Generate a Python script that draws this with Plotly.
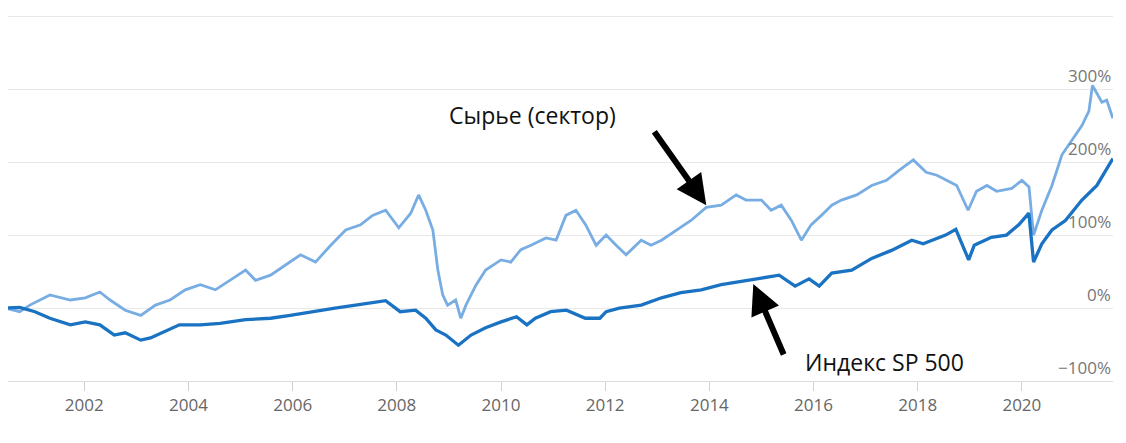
import plotly.graph_objects as go

# ---- data (cumulative return, %) ----
mat_dates = ["2000-06-25","2000-10-05","2000-12-15","2001-05-05","2001-09-25","2002-01-08","2002-04-20",
             "2002-07-01","2002-10-15","2003-02-01","2003-05-15","2003-08-25","2003-12-10","2004-03-25",
             "2004-07-08","2004-10-22","2005-02-05","2005-04-15","2005-07-30","2005-11-12","2006-02-25",
             "2006-06-10","2006-09-25","2007-01-08","2007-04-22","2007-07-15","2007-10-15","2008-01-15",
             "2008-04-08","2008-06-02","2008-07-22","2008-09-10","2008-10-15","2008-11-18","2008-12-22",
             "2009-02-17","2009-03-25","2009-04-30","2009-07-08","2009-09-15","2010-01-01","2010-03-10",
             "2010-05-20","2010-07-30","2010-11-12","2011-01-22","2011-04-01","2011-06-10","2011-08-18",
             "2011-10-30","2012-01-08","2012-03-18","2012-05-27","2012-09-10","2012-11-18","2013-01-30",
             "2013-05-15","2013-08-25","2013-12-10","2014-03-25","2014-07-08","2014-09-15","2015-01-01",
             "2015-03-10","2015-05-20","2015-07-30","2015-10-08","2015-12-15","2016-02-25","2016-05-08",
             "2016-07-15","2016-10-30","2017-02-12","2017-05-27","2017-08-25","2017-12-01","2018-03-01",
             "2018-05-15","2018-07-22","2018-10-01","2018-12-20","2019-02-17","2019-05-01","2019-07-08",
             "2019-10-22","2020-01-01","2020-02-20","2020-03-23","2020-05-20","2020-07-30","2020-10-08",
             "2020-12-15","2021-02-25","2021-04-15","2021-05-10","2021-07-15","2021-08-18","2021-09-30"]
mat_vals = [0, -5, 4, 18, 11, 14, 22,
            11, -3, -10, 4, 11, 25, 32,
            25, 38, 52, 38, 45, 59, 73,
            63, 86, 107, 114, 127, 134, 110,
            130, 155, 134, 107, 52, 18, 4,
            11, -14, 4, 31, 52, 66, 63,
            80, 86, 96, 93, 127, 134, 114,
            86, 100, 86, 73, 93, 86, 93,
            107, 120, 138, 141, 155, 148, 148,
            134, 141, 120, 93, 114, 127, 141,
            148, 155, 168, 175, 189, 203, 186,
            182, 175, 168, 134, 160, 168, 160,
            164, 175, 166, 100, 134, 168, 210,
            230, 250, 270, 305, 282, 285, 260]

sp_dates = ["2000-06-25","2000-10-05","2001-01-20","2001-05-05","2001-09-25","2002-01-08","2002-04-20",
            "2002-07-30","2002-10-15","2003-02-01","2003-04-10","2003-07-15","2003-10-30","2004-03-25",
            "2004-08-10","2005-02-05","2005-07-30","2005-12-15","2006-05-05","2006-10-25","2007-03-18",
            "2007-08-05","2007-10-15","2008-01-25","2008-05-12","2008-07-22","2008-10-01","2008-12-10",
            "2009-03-08","2009-06-05","2009-09-15","2010-01-01","2010-04-20","2010-07-01","2010-08-30",
            "2010-12-15","2011-04-05","2011-08-15","2011-11-25","2012-01-08","2012-04-10","2012-09-10",
            "2013-01-30","2013-06-15","2013-11-05","2014-03-25","2014-08-10","2015-01-01","2015-05-05",
            "2015-08-25","2015-12-01","2016-02-10","2016-05-08","2016-09-25","2017-02-12","2017-07-01",
            "2017-11-20","2018-02-08","2018-07-15","2018-09-25","2018-12-24","2019-02-01","2019-06-01",
            "2019-09-15","2019-12-10","2020-02-19","2020-03-23","2020-05-20","2020-07-30","2020-11-01",
            "2021-02-25","2021-06-10","2021-09-30"]
sp_vals = [0, 1, -5, -14, -23, -19, -23,
           -37, -34, -44, -41, -33, -23, -23,
           -21, -16, -14, -10, -5, 0, 4,
           8, 10, -5, -3, -14, -30, -37,
           -51, -37, -27, -19, -12, -23, -14,
           -5, -3, -14, -14, -5, 0, 4,
           14, 21, 25, 32, 36, 41, 45,
           30, 40, 30, 48, 52, 68, 79,
           93, 88, 100, 108, 66, 86, 97,
           100, 114, 130, 63, 88, 107, 120,
           148, 168, 205]

x_tick_vals = ["2002-01-01","2004-01-01","2006-01-01","2008-01-01","2010-01-01",
               "2012-01-01","2014-01-01","2016-01-01","2018-01-01","2020-01-01"]
x_tick_text = ["2002","2004","2006","2008","2010","2012","2014","2016","2018","2020"]
y_grid_vals = [-100, 0, 100, 200, 300, 400]
y_label_vals = [-100, 0, 100, 200, 300]
y_label_text = ["\u2212100%", "0%", "100%", "200%", "300%"]

mat_name = "Сырье (сектор)"
sp_name = "Индекс SP 500"

fig = go.Figure()
fig.add_trace(go.Scatter(x=mat_dates, y=mat_vals, mode="lines", name=mat_name,
                         line=dict(color="#78ade4", width=2.8)))
fig.add_trace(go.Scatter(x=sp_dates, y=sp_vals, mode="lines", name=sp_name,
                         line=dict(color="#1a73c2", width=3.3)))

annotations = []
for v, t in zip(y_label_vals, y_label_text):
    annotations.append(dict(x=1, xref="paper", y=v, yref="y", text=t, showarrow=False,
                            xanchor="right", yanchor="bottom", yshift=0,
                            font=dict(family="Open Sans", size=17, color="#777")))

annotations.append(dict(x="2010-08-10", y=264, xref="x", yref="y", text=mat_name, showarrow=False,
                        font=dict(family="Open Sans", size=23, color="#111")))
annotations.append(dict(x="2017-05-15", y=-74, xref="x", yref="y", text=sp_name, showarrow=False,
                        font=dict(family="Open Sans", size=23, color="#111")))
annotations.append(dict(x="2013-12-10", y=141, xref="x", yref="y", text="", showarrow=True,
                        ax=-53, ay=-75, arrowhead=2, arrowsize=1, arrowwidth=6, arrowcolor="#000"))
annotations.append(dict(x="2014-11-05", y=33, xref="x", yref="y", text="", showarrow=True,
                        ax=31, ay=72, arrowhead=2, arrowsize=1, arrowwidth=6, arrowcolor="#000"))

fig.update_layout(
    width=1118, height=435,
    margin=dict(l=0, r=13, t=6, b=62),
    plot_bgcolor="white", paper_bgcolor="white",
    showlegend=False,
    annotations=annotations,
    xaxis=dict(type="date", range=["2000-07-15", "2021-10-01"],
               tickvals=x_tick_vals, ticktext=x_tick_text,
               showgrid=False, zeroline=False,
               showline=True, linecolor="#dddddd", linewidth=1,
               ticks="outside", ticklen=9, tickcolor="#d0d0d0",
               tickfont=dict(family="Open Sans", size=17, color="#666")),
    yaxis=dict(range=[-100, 403], tickvals=y_grid_vals, showticklabels=False,
               showgrid=True, gridcolor="#e8e8e8", gridwidth=1, zeroline=False),
)

fig.write_html("out.html")
